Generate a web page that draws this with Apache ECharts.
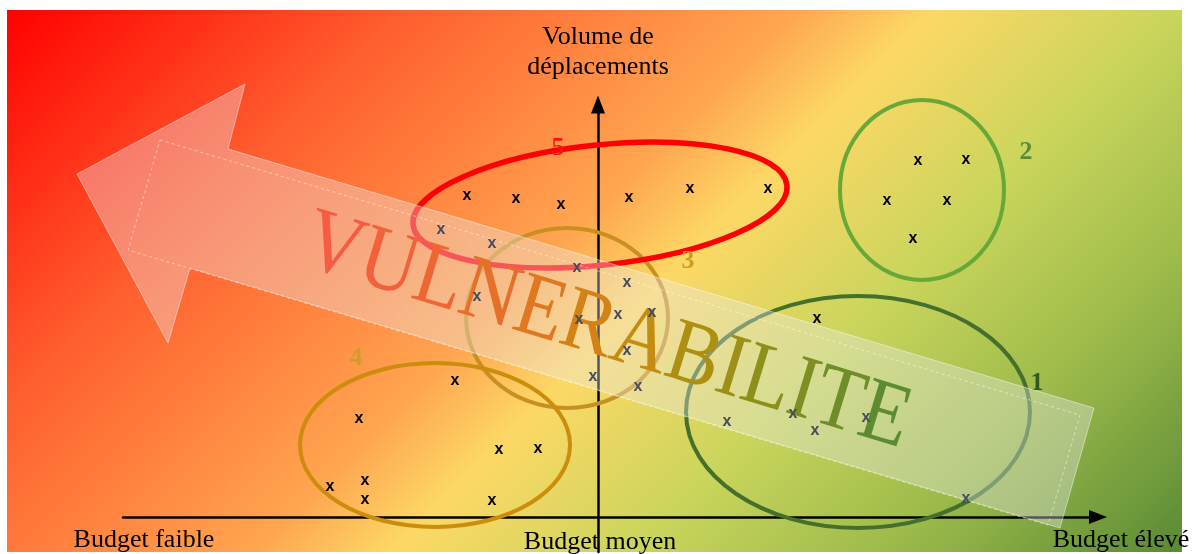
<!DOCTYPE html>
<html>
<head>
<meta charset="utf-8">
<title>Vulnérabilité</title>
<script src="https://cdn.jsdelivr.net/npm/echarts@6/dist/echarts.min.js"></script>
<style>
	html, body { margin: 0; padding: 0; background: #fff; }
	#chart { width: 1198px; height: 554px; }
</style>
</head>
<body>
<div id="chart"></div>
<script>
// --- data (x : budget, y : volume de déplacements ; origin = budget moyen) ---
var groupNames   = ['1', '2', '3', '4', '5'];
var groupCenterX = [5.20, 6.48, -0.62, -3.26, 0.04];
var groupCenterY = [2.10, 6.54, 3.98, 1.44, 6.24];
var groupSpreadX = [3.44, 1.64, 2.02, 2.70, 3.76];
var groupSpreadY = [2.32, 1.80, 1.80, 1.64, 1.20];
var groupTilt    = [0, 0, 0, 0, 6];
var groupLabelX  = [8.78, 8.56, 1.80, -4.84, -0.80];
var groupLabelY  = [2.68, 7.30, 5.12, 3.18, 7.38];

// profiles outside the arrow
var profileX = [-2.62, -1.64, -0.74, 0.62, 1.84, 3.40, 6.40, 7.36, 5.78, 6.98, 6.30, 4.38,
	-2.86, -4.78, -1.98, -1.20, -4.66, -5.36, -4.66, -2.12];
var profileY = [6.40, 6.34, 6.22, 6.36, 6.54, 6.54, 7.10, 7.12, 6.30, 6.30, 5.54, 3.94,
	2.70, 1.94, 1.32, 1.34, 0.70, 0.58, 0.32, 0.30];
// profiles under the arrow
var bandProfileX = [-3.14, -2.12, -0.42, 0.58, -2.42, -0.38, 0.40, 1.08, 0.58, -0.10, 0.80,
	2.58, 3.90, 4.34, 5.36, 7.36];
var bandProfileY = [5.72, 5.44, 4.96, 4.66, 4.38, 3.92, 4.02, 4.06, 3.30, 2.78, 2.58,
	1.88, 2.04, 1.70, 1.96, 0.34];

var budgetLabels = ['Budget faible', 'Budget moyen', 'Budget élevé'];
var budgetLabelX = [-9.08, 0.04, 10.46];
var budgetLabelY = [-0.46, -0.50, -0.46];

var bigWord = 'VULNERABILITE';

// --- styles ---
var groupStyle = {
	'1': { stroke: '#44702c', width: 4, label: '#2e5a20' },
	'2': { stroke: '#68a838', width: 4, label: '#5a8a3a' },
	'3': { stroke: '#c89020', width: 4, label: '#c8a020' },
	'4': { stroke: '#cc8c0c', width: 4, label: '#c8a02a' },
	'5': { stroke: '#ff0000', width: 5.5, label: '#ff1010' }
};
var serif = '"Liberation Serif", "DejaVu Serif", serif';
var wordStops = [
	[0, [251, 88, 72]], [0.22, [238, 102, 52]], [0.42, [220, 124, 28]],
	[0.58, [190, 144, 14]], [0.74, [148, 144, 24]], [1, [82, 138, 54]]
];

function stopColor(t){
	for (var i = 1; i < wordStops.length; i++) {
		if (t <= wordStops[i][0]) {
			var a = wordStops[i - 1], b = wordStops[i];
			var k = (t - a[0]) / (b[0] - a[0]);
			var c = a[1].map(function(v, j){ return Math.round(v + (b[1][j] - v) * k); });
			return 'rgb(' + c.join(',') + ')';
		}
	}
	return 'rgb(' + wordStops[wordStops.length - 1][1].join(',') + ')';
}

// letters of the big word, each tinted along the arrow
function wordLetters(){
	var font = '90px ' + serif;
	var ctx = document.createElement('canvas').getContext('2d');
	ctx.font = font;
	var widths = bigWord.split('').map(function(ch){ return ctx.measureText(ch).width; });
	var total = widths.reduce(function(s, w){ return s + w; }, 0);
	var acc = 0;
	return bigWord.split('').map(function(ch, i){
		var cx = acc + widths[i] / 2;
		acc += widths[i];
		return {
			type: 'text', z: 4,
			x: cx - total / 2, y: 0,
			style: { text: ch, font: font, fill: stopColor(cx / total), align: 'center', verticalAlign: 'middle' }
		};
	});
}

var ellipseData = groupNames.map(function(g, i){
	return [groupCenterX[i], groupCenterY[i], groupSpreadX[i], groupSpreadY[i], groupTilt[i]];
});
var groupLabelData = groupNames.map(function(g, i){
	return [groupLabelX[i], groupLabelY[i], g];
});
var profileData = profileX.map(function(x, i){ return [x, profileY[i]]; });
var bandProfileData = bandProfileX.map(function(x, i){ return [x, bandProfileY[i]]; });
var budgetData = budgetLabels.map(function(t, i){ return [budgetLabelX[i], budgetLabelY[i], t]; });

function markerSeries(data, color){
	return {
		type: 'custom',
		z: 6,
		encode: { x: 0, y: 1 },
		data: data,
		renderItem: function(params, api){
			var p = api.coord([api.value(0), api.value(1)]);
			return {
				type: 'text', x: p[0], y: p[1] - 1,
				style: {
					text: 'x', fill: color,
					font: 'bold 16px "Liberation Sans", Arial, sans-serif',
					align: 'center', verticalAlign: 'middle'
				}
			};
		}
	};
}

var myChart = echarts.init(document.getElementById('chart'));

var option = {
	animation: false,
	grid: { left: 123, right: 100, top: 104.5, bottom: 2, containLabel: false, outerBoundsMode: 'none' },
	xAxis: {
		type: 'value', min: -9.5, max: 10,
		axisLine: { onZero: true, symbol: ['none', 'triangle'], symbolSize: [14, 18],
			lineStyle: { color: '#000', width: 2.5 } },
		axisTick: { show: false }, axisLabel: { show: false }, splitLine: { show: false }
	},
	yAxis: {
		type: 'value', min: -0.7, max: 8.25,
		name: 'Volume de\ndéplacements',
		nameLocation: 'end', nameGap: 22,
		nameTextStyle: { color: '#000', fontFamily: serif, fontSize: 26, lineHeight: 30, align: 'center' },
		axisLine: { onZero: true, symbol: ['none', 'triangle'], symbolSize: [14, 18],
			lineStyle: { color: '#000', width: 2.5 } },
		axisTick: { show: false }, axisLabel: { show: false }, splitLine: { show: false }
	},
	graphic: [
		{
			type: 'rect', z: -10,
			shape: { x: 7, y: 10, width: 1175, height: 542 },
			style: {
				fill: new echarts.graphic.LinearGradient(7, 10, 865, 868, [
					{ offset: 0, color: '#ff0000' },
					{ offset: 0.23, color: '#ff5e2e' },
					{ offset: 0.46, color: '#ffa650' },
					{ offset: 0.54, color: '#fdd866' },
					{ offset: 0.68, color: '#cad55c' },
					{ offset: 0.83, color: '#9cba4a' },
					{ offset: 1, color: '#5a8a35' }
				], true)
			}
		},
		{
			// big arrow
			type: 'polygon', z: 3,
			shape: { points: [[77, 174], [245, 84], [228, 149], [1094, 408], [1060, 528], [190, 268], [168, 343]] },
			style: { fill: 'rgba(236,236,240,0.36)', stroke: 'rgba(255,255,255,0.45)', lineWidth: 1 }
		},
		{
			type: 'polygon', z: 3,
			shape: { points: [[160, 140], [1080, 415], [1048, 525], [128, 250]] },
			style: { fill: null, stroke: 'rgba(255,255,255,0.5)', lineWidth: 1, lineDash: [3, 3] }
		},
		{
			type: 'group', z: 4,
			x: 607, y: 333, rotation: -17 * Math.PI / 180, scaleX: 0.88,
			children: wordLetters()
		}
	],
	series: [
		{
			type: 'custom',
			z: 2,
			encode: { x: 0, y: 1 },
			data: ellipseData,
			renderItem: function(params, api){
				var c = api.coord([api.value(0), api.value(1)]);
				var s = api.size([api.value(2), api.value(3)]);
				var st = groupStyle[groupNames[params.dataIndex]];
				return {
					type: 'ellipse',
					x: c[0], y: c[1],
					rotation: api.value(4) * Math.PI / 180,
					shape: { cx: 0, cy: 0, rx: s[0], ry: s[1] },
					style: { fill: null, stroke: st.stroke, lineWidth: st.width }
				};
			}
		},
		{
			type: 'custom',
			z: 2,
			encode: { x: 0, y: 1 },
			data: groupLabelData,
			renderItem: function(params, api){
				var p = api.coord([api.value(0), api.value(1)]);
				var g = groupNames[params.dataIndex];
				return {
					type: 'text', x: p[0], y: p[1],
					style: {
						text: g, fill: groupStyle[g].label,
						font: 'bold 26px ' + serif,
						align: 'center', verticalAlign: 'middle'
					}
				};
			}
		},
		markerSeries(profileData, '#000'),
		markerSeries(bandProfileData, '#444c5e'),
		{
			type: 'custom',
			z: 6,
			encode: { x: 0, y: 1 },
			data: budgetData,
			renderItem: function(params, api){
				var p = api.coord([api.value(0), api.value(1)]);
				return {
					type: 'text', x: p[0], y: p[1],
					style: {
						text: budgetLabels[params.dataIndex], fill: '#000',
						font: '26px ' + serif,
						align: 'center', verticalAlign: 'middle'
					}
				};
			}
		}
	]
};

myChart.setOption(option);
</script>
</body>
</html>
